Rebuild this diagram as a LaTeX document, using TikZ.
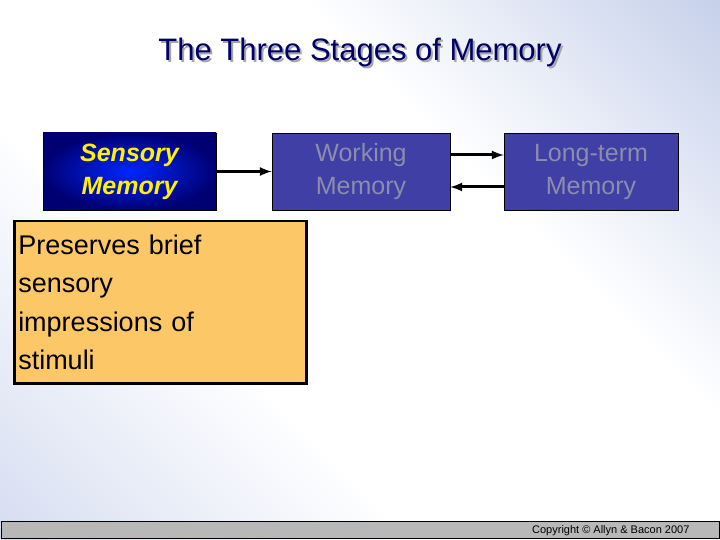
\documentclass[tikz,border=0pt]{standalone}
\usepackage{fontspec}
\setmainfont{Liberation Sans}
\definecolor{stagecol}{HTML}{3F3FA6}
\definecolor{bgblue}{HTML}{A3B4DE}
\definecolor{bgblueL}{HTML}{BCC8E8}
\definecolor{orangebox}{HTML}{FCC867}
\definecolor{grtxt}{HTML}{8C8CAE}
\pgfdeclarehorizontalshading{bgshade}{100bp}{color(0bp)=(bgblueL); color(38bp)=(white); color(62bp)=(white); color(100bp)=(bgblue)}
\begin{document}
\begin{tikzpicture}[x=1pt,y=-1pt,
 stage/.style={draw=black,line width=0.6pt,fill=stagecol,minimum width=178pt,minimum height=77pt,inner sep=0pt,font=\fontsize{25}{33}\selectfont,align=center},
 arr/.style={line width=3pt,-latex}]
\useasboundingbox (0,0) rectangle (720,540);
\shade[shading=bgshade,shading angle=45] (0,0) rectangle (720,540);
\node (titleshadow) [text=black!35,font=\fontsize{31}{36}\selectfont] at (362,54) {The Three Stages of Memory};
\node (title) [text=blue!40!black,font=\fontsize{31}{36}\selectfont] at (360,52) {The Three Stages of Memory};
\node (sm) [stage,minimum width=173pt,inner color=blue!85!cyan,outer color=blue!45!black,text=yellow,font=\fontsize{25}{33}\selectfont\bfseries\itshape] at (129.5,171.5) {Sensory\\Memory};
\node (wm) [stage,text=grtxt] at (361,171.5) {Working\\Memory};
\node (lt) [stage,minimum width=174pt,text=grtxt] at (591,171.5) {Long-term\\Memory};
\draw[arr] (sm.east) -- (wm.west);
\draw[arr] (wm.east|-0,155) -- (lt.west|-0,155);
\draw[arr] (lt.west|-0,187) -- (wm.east|-0,187);
\node (desc) [draw=black,line width=2.5pt,fill=orangebox,minimum width=292pt,minimum height=162pt,text width=284pt,align=left,font=\fontsize{27}{38.5}\selectfont,anchor=north west,inner sep=4pt] at (13,220) {Preserves brief\\sensory\\impressions of\\stimuli};
\node (bar) [draw=black,line width=1pt,fill=black!28,minimum width=718pt,minimum height=17pt,anchor=south west,inner sep=0pt] at (1,539) {};
\node (copy) [font=\fontsize{11}{12}\selectfont,anchor=east] at (693,531) {Copyright © Allyn \& Bacon 2007};
\end{tikzpicture}
\end{document}
